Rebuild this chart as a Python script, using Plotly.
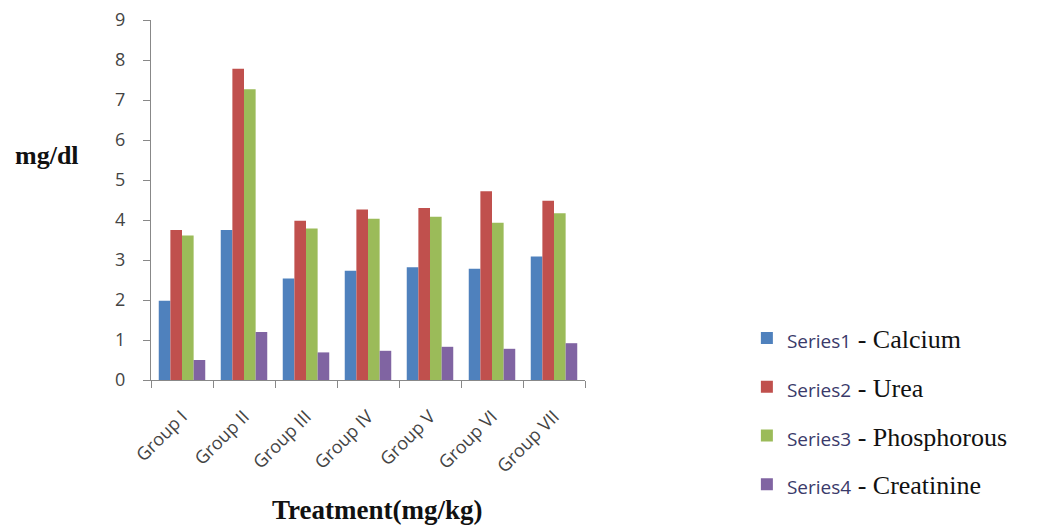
import plotly.graph_objects as go

groups = ["Group I", "Group II", "Group III", "Group IV", "Group V", "Group VI", "Group VII"]
calcium = [1.98, 3.75, 2.54, 2.73, 2.82, 2.78, 3.09]
urea = [3.75, 7.78, 3.98, 4.26, 4.30, 4.72, 4.48]
phosphorous = [3.61, 7.27, 3.79, 4.03, 4.08, 3.93, 4.17]
creatinine = [0.50, 1.20, 0.69, 0.73, 0.83, 0.78, 0.92]

series_labels = ["Series1", "Series2", "Series3", "Series4"]
analytes = ["Calcium", "Urea", "Phosphorous", "Creatinine"]
colors = ["#4F81BD", "#C0504D", "#9BBB59", "#8064A2"]
y_ticks = [0, 1, 2, 3, 4, 5, 6, 7, 8, 9]

fig = go.Figure()
for i, (vals, s, a, c) in enumerate(zip([calcium, urea, phosphorous, creatinine],
                                         series_labels, analytes, colors)):
    name = (f"<span style='font-family:Open Sans;font-size:19px;color:#3a3a6a'>{s}</span>"
            f" - {a}")
    fig.add_trace(go.Bar(x=groups, y=vals, name=name, marker=dict(color=c, line=dict(width=0)),
                         legendgroup=f"g{i}"))

fig.update_layout(
    width=1047, height=526,
    margin=dict(l=143, r=470, t=12, b=154, autoexpand=False),
    paper_bgcolor="white", plot_bgcolor="white",
    barmode="group", bargap=0.25, bargroupgap=0,
    font=dict(family="Open Sans", size=17, color="#444"),
    showlegend=True,
    legend=dict(x=1.373, y=0.182, xanchor="left", yanchor="top",
                tracegroupgap=12, traceorder="grouped",
                font=dict(family="Liberation Serif", size=26, color="#111"),
                bgcolor="rgba(0,0,0,0)", itemwidth=30),
    xaxis=dict(showline=True, linecolor="#888", linewidth=1, ticks="outside",
               tickson="boundaries", ticklen=7, tickcolor="#888",
               tickangle=-45, ticklabelstandoff=18, automargin=False,
               tickfont=dict(family="Open Sans", size=18, color="#444"),
               showgrid=False),
    yaxis=dict(range=[0, 9], tickvals=y_ticks, showline=True, linecolor="#888", linewidth=1,
               ticks="outside", ticklen=7, tickcolor="#888", showgrid=False, zeroline=False,
               ticklabelstandoff=14, automargin=False, ticklabeloverflow="allow",
               tickfont=dict(family="Open Sans", size=18, color="#444")),
    annotations=[
        dict(text="<b>mg/dl</b>", xref="paper", yref="paper", x=-0.318, y=0.625,
             xanchor="left", yanchor="middle", showarrow=False,
             font=dict(family="Liberation Serif", size=26, color="#111")),
        dict(text="<b>Treatment(mg/kg)</b>", xref="paper", yref="paper", x=0.521, y=-0.36,
             xanchor="center", yanchor="middle", showarrow=False,
             font=dict(family="Liberation Serif", size=27, color="#111")),
    ],
)

fig.write_html("out.html")
